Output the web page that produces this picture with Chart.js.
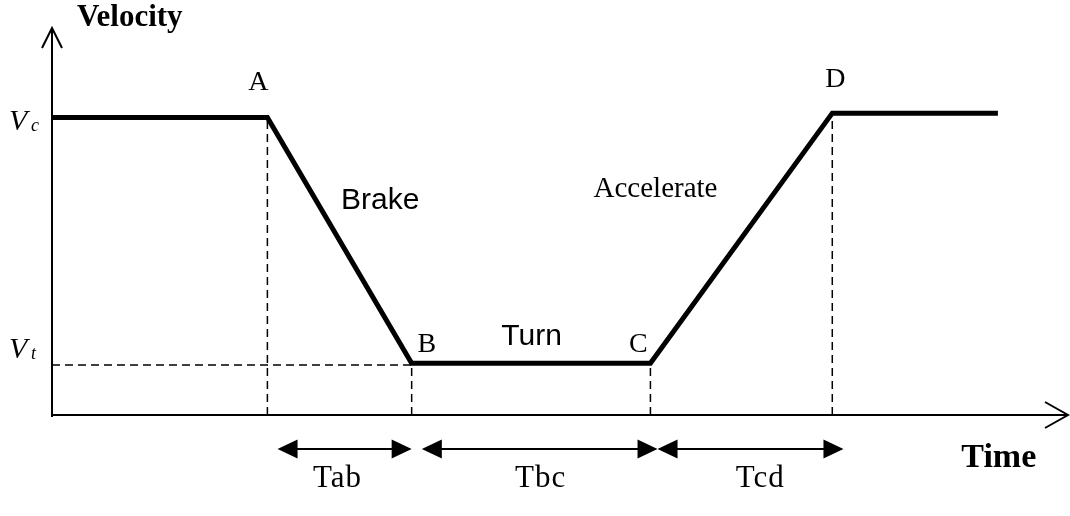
<!DOCTYPE html>
<html>
<head>
<meta charset="utf-8">
<script src="https://cdn.jsdelivr.net/npm/chart.js@4/dist/chart.umd.min.js"></script>
<style>
  html, body { margin: 0; padding: 0; background: #fff; }
  #wrap { width: 1070px; height: 516px; }
</style>
</head>
<body>
<div id="wrap"><canvas id="perfil" width="1070" height="516"></canvas></div>
<script>
// Velocity profile through a turn
const tempos = [0, 21.2, 35.4, 58.9, 76.8, 93.1];
const velocidades = [76.9, 76.9, 13.4, 13.4, 78.0, 78.0];
const nomesPontos = ['A', 'B', 'C', 'D'];
const nomesFases = ['Brake', 'Turn', 'Accelerate'];
const nomesIntervalos = ['Tab', 'Tbc', 'Tcd'];
const inicioIntervalo = [22.2, 36.4, 59.6];
const fimIntervalo = [35.4, 59.6, 77.9];
const vt = 12.9;

const SERIF = '"Liberation Serif", "Times New Roman", serif';
const SANS = '"Liberation Sans", Arial, sans-serif';

// where each text sits, in chart units
const posPontos = [[20.3, 84.0], [36.9, 16.3], [57.7, 16.3], [77.1, 84.8]];
const posFases = [[32.3, 53.2], [47.2, 18.1], [59.4, 56.3]];
const posIntervalos = [[28.1, -18.6], [48.1, -18.6], [69.7, -18.6]];
const yIntervalo = -8.8;

const perfil = tempos.map((t, i) => ({ x: t, y: velocidades[i] }));

// dashed drop lines from A, B, C, D down to the time axis
const quedas = [];
for (let i = 1; i <= 4; i++) {
  quedas.push({ x: tempos[i], y: 0 }, { x: tempos[i], y: velocidades[i] }, { x: tempos[i], y: null });
}
const linhaVt = [{ x: 0, y: vt }, { x: tempos[2], y: vt }];

function setaDupla(ctx, x1, x2, y) {
  const c = 20, h = 9.5;
  ctx.beginPath();
  ctx.moveTo(x1 + c - 2, y);
  ctx.lineTo(x2 - c + 2, y);
  ctx.lineWidth = 2;
  ctx.stroke();
  ctx.beginPath();
  ctx.moveTo(x1, y); ctx.lineTo(x1 + c, y - h); ctx.lineTo(x1 + c, y + h); ctx.closePath();
  ctx.moveTo(x2, y); ctx.lineTo(x2 - c, y - h); ctx.lineTo(x2 - c, y + h); ctx.closePath();
  ctx.fill();
}

const anotacoes = {
  id: 'anotacoes',
  afterDatasetsDraw(chart) {
    const { ctx, chartArea: a, scales: { x, y } } = chart;
    ctx.save();
    ctx.strokeStyle = '#000';
    ctx.fillStyle = '#000';
    ctx.lineCap = 'butt';

    // axes with open arrow heads
    ctx.lineWidth = 2;
    ctx.beginPath();
    ctx.moveTo(a.left, a.bottom + 2);
    ctx.lineTo(a.left, a.top);
    ctx.moveTo(a.left - 10, a.top + 20);
    ctx.lineTo(a.left, a.top);
    ctx.lineTo(a.left + 10, a.top + 20);
    ctx.moveTo(a.left, a.bottom);
    ctx.lineTo(a.right, a.bottom);
    ctx.moveTo(a.right - 23, a.bottom - 13);
    ctx.lineTo(a.right, a.bottom);
    ctx.lineTo(a.right - 23, a.bottom + 13);
    ctx.stroke();

    // interval arrows
    for (let i = 0; i < nomesIntervalos.length; i++) {
      setaDupla(ctx, x.getPixelForValue(inicioIntervalo[i]), x.getPixelForValue(fimIntervalo[i]), y.getPixelForValue(yIntervalo));
    }

    ctx.textAlign = 'center';
    ctx.textBaseline = 'alphabetic';
    ctx.font = '28px ' + SERIF;
    nomesPontos.forEach((n, i) => ctx.fillText(n, x.getPixelForValue(posPontos[i][0]), y.getPixelForValue(posPontos[i][1])));
    ctx.font = '31px ' + SERIF;
    ctx.letterSpacing = '1px';
    nomesIntervalos.forEach((n, i) => ctx.fillText(n, x.getPixelForValue(posIntervalos[i][0]), y.getPixelForValue(posIntervalos[i][1])));
    ctx.letterSpacing = '0px';

    ctx.font = '30px ' + SANS;
    ctx.fillText(nomesFases[0], x.getPixelForValue(posFases[0][0]), y.getPixelForValue(posFases[0][1]));
    ctx.fillText(nomesFases[1], x.getPixelForValue(posFases[1][0]), y.getPixelForValue(posFases[1][1]));
    ctx.font = '29px ' + SERIF;
    ctx.fillText(nomesFases[2], x.getPixelForValue(posFases[2][0]), y.getPixelForValue(posFases[2][1]));

    // axis titles
    ctx.textAlign = 'left';
    ctx.font = 'bold 31px ' + SERIF;
    ctx.fillText('Velocity', a.left + 25, y.getPixelForValue(100.5));
    ctx.font = 'bold 34px ' + SERIF;
    ctx.fillText('Time', x.getPixelForValue(89.5), y.getPixelForValue(-13.5));

    // V_c and V_t
    const rotulos = [['c', 73.6], ['t', 14.7]];
    rotulos.forEach(([sub, v]) => {
      const py = y.getPixelForValue(v);
      ctx.font = 'italic 30px ' + SERIF;
      ctx.fillText('V', 9, py);
      ctx.font = 'italic 18px ' + SERIF;
      ctx.fillText(sub, 31, py + 1);
    });
    ctx.restore();
  }
};

new Chart(document.getElementById('perfil'), {
  type: 'scatter',
  data: {
    datasets: [
      {
        data: quedas,
        showLine: true,
        borderColor: '#000',
        borderWidth: 1.5,
        borderDash: [8, 5],
        pointRadius: 0,
        spanGaps: false
      },
      {
        data: linhaVt,
        showLine: true,
        borderColor: '#000',
        borderWidth: 1.5,
        borderDash: [8, 5],
        pointRadius: 0
      },
      {
        data: perfil,
        showLine: true,
        borderColor: '#000',
        borderWidth: 5,
        borderJoinStyle: 'miter',
        pointRadius: 0
      }
    ]
  },
  options: {
    responsive: false,
    animation: false,
    layout: { padding: { left: 52, right: 2, top: 28, bottom: 101 } },
    plugins: { legend: { display: false }, tooltip: { enabled: false } },
    scales: {
      x: { type: 'linear', min: 0, max: 100, display: false },
      y: { type: 'linear', min: 0, max: 100, display: false }
    }
  },
  plugins: [anotacoes]
});
</script>
</body>
</html>
